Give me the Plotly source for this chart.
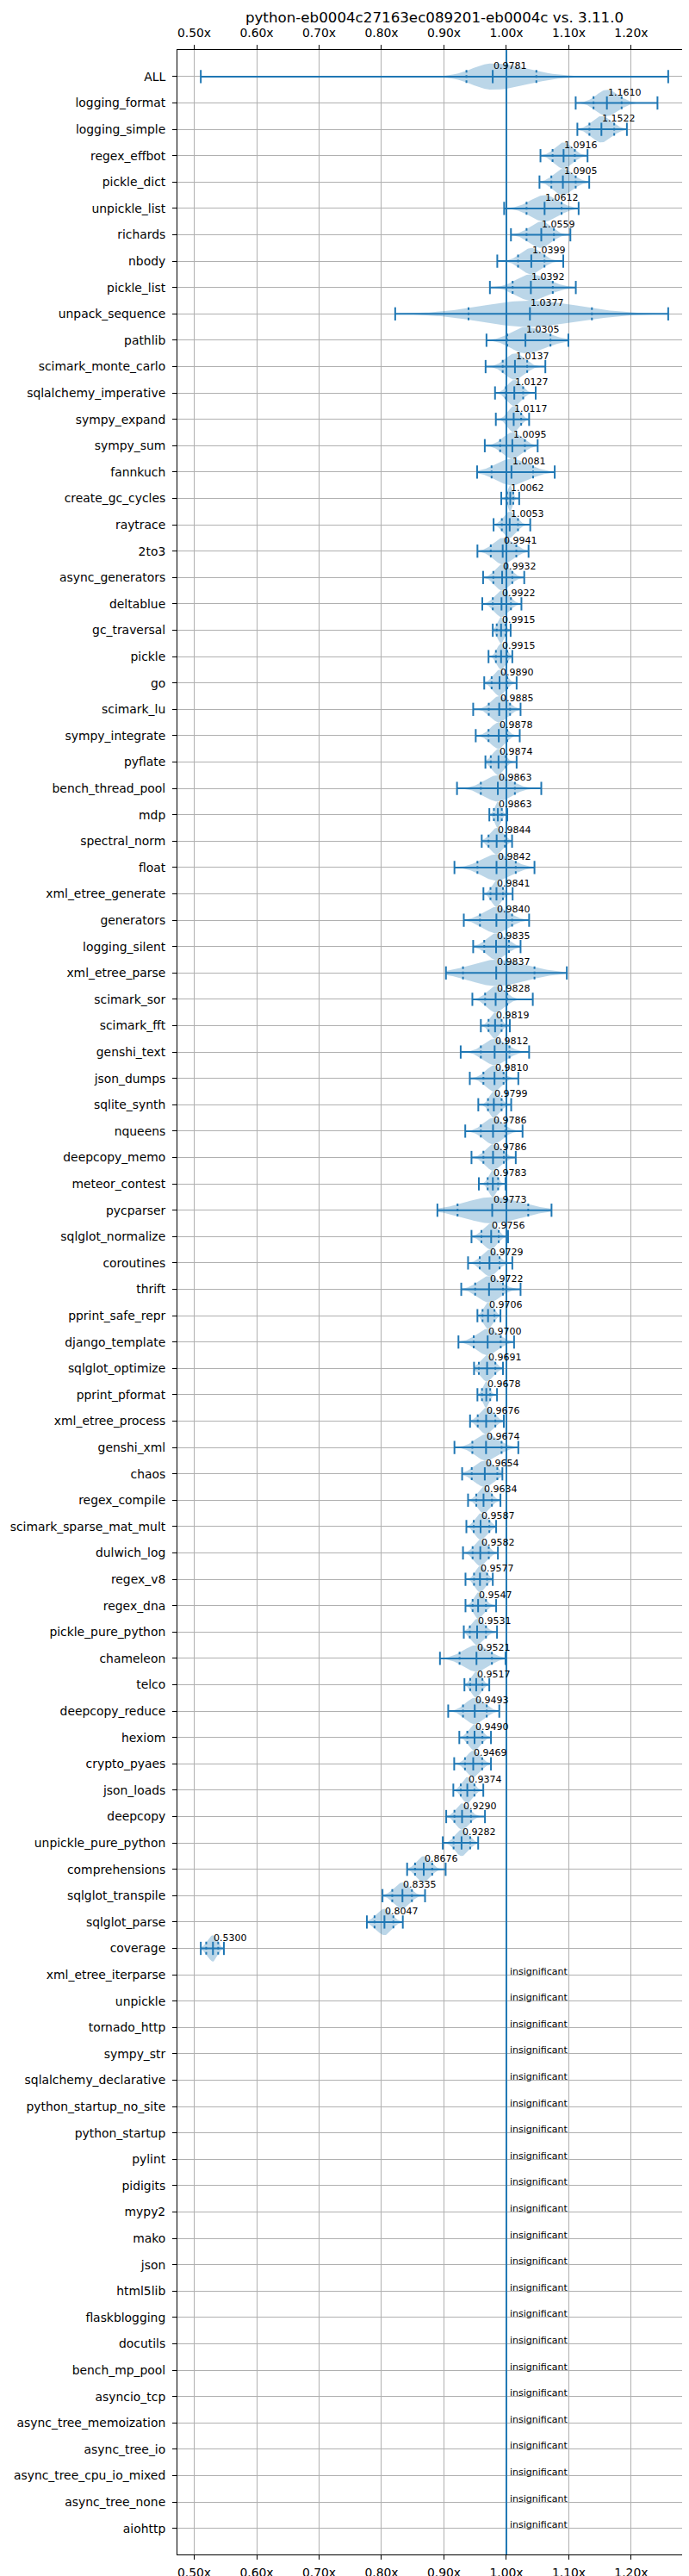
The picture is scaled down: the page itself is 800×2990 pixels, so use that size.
import numpy as np
import plotly.graph_objects as go

title = "python-eb0004c27163ec089201-eb0004c vs. 3.11.0"

names = [
    "ALL", "logging_format", "logging_simple", "regex_effbot", "pickle_dict",
    "unpickle_list", "richards", "nbody", "pickle_list", "unpack_sequence",
    "pathlib", "scimark_monte_carlo", "sqlalchemy_imperative", "sympy_expand", "sympy_sum",
    "fannkuch", "create_gc_cycles", "raytrace", "2to3", "async_generators",
    "deltablue", "gc_traversal", "pickle", "go", "scimark_lu",
    "sympy_integrate", "pyflate", "bench_thread_pool", "mdp", "spectral_norm",
    "float", "xml_etree_generate", "generators", "logging_silent", "xml_etree_parse",
    "scimark_sor", "scimark_fft", "genshi_text", "json_dumps", "sqlite_synth",
    "nqueens", "deepcopy_memo", "meteor_contest", "pycparser", "sqlglot_normalize",
    "coroutines", "thrift", "pprint_safe_repr", "django_template", "sqlglot_optimize",
    "pprint_pformat", "xml_etree_process", "genshi_xml", "chaos", "regex_compile",
    "scimark_sparse_mat_mult", "dulwich_log", "regex_v8", "regex_dna", "pickle_pure_python",
    "chameleon", "telco", "deepcopy_reduce", "hexiom", "crypto_pyaes",
    "json_loads", "deepcopy", "unpickle_pure_python", "comprehensions", "sqlglot_transpile",
    "sqlglot_parse", "coverage",
    # no significant change
    "xml_etree_iterparse", "unpickle", "tornado_http", "sympy_str", "sqlalchemy_declarative",
    "python_startup_no_site", "python_startup", "pylint", "pidigits", "mypy2",
    "mako", "json", "html5lib", "flaskblogging", "docutils",
    "bench_mp_pool", "asyncio_tcp", "async_tree_memoization", "async_tree_io",
    "async_tree_cpu_io_mixed", "async_tree_none", "aiohttp",
]

# per benchmark: min, low quantile, geometric mean, high quantile, max
lo = [
    0.5105, 1.1110, 1.1137, 1.0546, 1.0530, 0.9964, 1.0073, 0.9854, 0.9736, 0.8219,
    0.9681, 0.9667, 0.9818, 0.9831, 0.9654, 0.9531, 0.9918, 0.9795, 0.9536, 0.9627,
    0.9614, 0.9782, 0.9714, 0.9645, 0.9468, 0.9509, 0.9664, 0.9209, 0.9727, 0.9605,
    0.9168, 0.9632, 0.9318, 0.9468, 0.9032, 0.9455, 0.9591, 0.9268, 0.9414, 0.9550,
    0.9341, 0.9441, 0.9559, 0.8895, 0.9441, 0.9386, 0.9277, 0.9536, 0.9232, 0.9482,
    0.9536, 0.9418, 0.9168, 0.9291, 0.9386, 0.9359, 0.9305, 0.9345, 0.9345, 0.9318,
    0.8936, 0.9328, 0.9068, 0.9246, 0.9164, 0.9150, 0.9036, 0.8981, 0.8410, 0.8016,
    0.7765, 0.5105,
]
q_lo = [
    0.9360, 1.1396, 1.1330, 1.0740, 1.0720, 1.0323, 1.0323, 1.0187, 1.0100, 0.9394,
    1.0014, 0.9941, 0.9990, 1.0000, 0.9900, 0.9763, 1.0010, 0.9927, 0.9750, 0.9791,
    0.9782, 0.9845, 0.9832, 0.9764, 0.9718, 0.9714, 0.9750, 0.9591, 0.9800, 0.9714,
    0.9536, 0.9745, 0.9577, 0.9645, 0.9305, 0.9659, 0.9714, 0.9591, 0.9632, 0.9705,
    0.9591, 0.9632, 0.9700, 0.9218, 0.9600, 0.9573, 0.9500, 0.9618, 0.9477, 0.9559,
    0.9609, 0.9541, 0.9455, 0.9445, 0.9518, 0.9477, 0.9459, 0.9482, 0.9459, 0.9414,
    0.9250, 0.9420, 0.9305, 0.9374, 0.9337, 0.9269, 0.9168, 0.9154, 0.8537, 0.8172,
    0.7888, 0.5192,
]
mean = [
    0.9781, 1.1610, 1.1522, 1.0916, 1.0905, 1.0612, 1.0559, 1.0399, 1.0392, 1.0377,
    1.0305, 1.0137, 1.0127, 1.0117, 1.0095, 1.0081, 1.0062, 1.0053, 0.9941, 0.9932,
    0.9922, 0.9915, 0.9915, 0.9890, 0.9885, 0.9878, 0.9874, 0.9863, 0.9863, 0.9844,
    0.9842, 0.9841, 0.9840, 0.9835, 0.9837, 0.9828, 0.9819, 0.9812, 0.9810, 0.9799,
    0.9786, 0.9786, 0.9783, 0.9773, 0.9756, 0.9729, 0.9722, 0.9706, 0.9700, 0.9691,
    0.9678, 0.9676, 0.9674, 0.9654, 0.9634, 0.9587, 0.9582, 0.9577, 0.9547, 0.9531,
    0.9521, 0.9517, 0.9493, 0.9490, 0.9469, 0.9374, 0.9290, 0.9282, 0.8676, 0.8335,
    0.8047, 0.5300,
]
q_hi = [
    1.0480, 1.1846, 1.1727, 1.1096, 1.1110, 1.0884, 1.0761, 1.0610, 1.0743, 1.1370,
    1.0706, 1.0333, 1.0269, 1.0237, 1.0296, 1.0428, 1.0110, 1.0186, 1.0159, 1.0095,
    1.0073, 0.9986, 1.0014, 1.0014, 1.0059, 1.0014, 0.9990, 1.0136, 0.9927, 0.9977,
    1.0150, 0.9945, 1.0091, 1.0041, 1.0450, 1.0014, 0.9923, 1.0050, 0.9955, 0.9923,
    0.9982, 0.9959, 0.9868, 1.0350, 0.9877, 0.9891, 0.9945, 0.9809, 0.9909, 0.9823,
    0.9741, 0.9823, 0.9923, 0.9855, 0.9768, 0.9727, 0.9718, 0.9691, 0.9673, 0.9673,
    0.9768, 0.9616, 0.9685, 0.9616, 0.9612, 0.9488, 0.9433, 0.9420, 0.8812, 0.8487,
    0.8190, 0.5384,
]
hi = [
    1.2592, 1.2420, 1.1930, 1.1300, 1.1327, 1.1157, 1.1025, 1.0911, 1.1112, 1.2592,
    1.0993, 1.0624, 1.0469, 1.0364, 1.0501, 1.0774, 1.0205, 1.0382, 1.0355, 1.0286,
    1.0241, 1.0068, 1.0095, 1.0164, 1.0227, 1.0214, 1.0164, 1.0559, 1.0014, 1.0091,
    1.0450, 1.0100, 1.0364, 1.0227, 1.0968, 1.0423, 1.0055, 1.0364, 1.0191, 1.0077,
    1.0259, 1.0150, 0.9986, 1.0723, 1.0027, 1.0095, 1.0227, 0.9905, 1.0123, 0.9945,
    0.9850, 0.9959, 1.0191, 0.9936, 0.9905, 0.9836, 0.9864, 0.9782, 0.9836, 0.9850,
    0.9986, 0.9726, 0.9886, 0.9753, 0.9753, 0.9630, 0.9657, 0.9548, 0.9027, 0.8697,
    0.8341, 0.5475,
]

tick_vals = [0.5, 0.6, 0.7, 0.8, 0.9, 1.0, 1.1, 1.2]
tick_text = ["0.50x", "0.60x", "0.70x", "0.80x", "0.90x", "1.00x", "1.10x", "1.20x"]

BLUE = "#1f77b4"
FILL = "rgba(31,119,180,0.3)"
FONT = "DejaVu Sans"

n_sig = len(mean)
rows = np.arange(len(names))


def violin_outline(i):
    # split gaussian profile between min and max, peak at the mean
    xs = np.linspace(lo[i], hi[i], 90)
    s = np.where(xs < mean[i], (mean[i] - q_lo[i]) / 1.2816, (q_hi[i] - mean[i]) / 1.2816)
    half = 0.5 * np.exp(-0.5 * ((xs - mean[i]) / s) ** 2)
    return (np.concatenate([xs, xs[::-1]]),
            np.concatenate([i - half, (i + half)[::-1]]))


fig = go.Figure()

for i in range(n_sig):
    vx, vy = violin_outline(i)
    fig.add_trace(go.Scatter(x=vx, y=vy, mode="lines", fill="toself", fillcolor=FILL,
                             line=dict(width=0), hoverinfo="skip", showlegend=False))

wx, wy = [], []
tx, ty = [], []
dx, dy = [], []
for i in range(n_sig):
    wx += [lo[i], hi[i], None]
    wy += [i, i, None]
    for v in (lo[i], mean[i], hi[i]):
        tx += [v, v, None]
        ty += [i - 0.25, i + 0.25, None]
    for v in (q_lo[i], q_hi[i]):
        dx += [v, v, None]
        dy += [i - 0.25, i + 0.25, None]

fig.add_trace(go.Scatter(x=wx, y=wy, mode="lines", line=dict(color=BLUE, width=2),
                         hoverinfo="skip", showlegend=False))
fig.add_trace(go.Scatter(x=tx, y=ty, mode="lines", line=dict(color=BLUE, width=2),
                         hoverinfo="skip", showlegend=False))
fig.add_trace(go.Scatter(x=dx, y=dy, mode="lines", line=dict(color=BLUE, width=2, dash="dot"),
                         hoverinfo="skip", showlegend=False))
# dummy trace so the top axis gets drawn
fig.add_trace(go.Scatter(x=[mean[0]], y=[0], xaxis="x2", mode="markers",
                         marker=dict(opacity=0), hoverinfo="skip", showlegend=False))

for i in range(n_sig):
    fig.add_annotation(x=mean[i], y=i, text=f"{mean[i]:.4f}", showarrow=False,
                       xanchor="left", yanchor="middle", xshift=-1, yshift=12.5,
                       font=dict(family=FONT, size=11, color="black"))
for i in range(n_sig, len(names)):
    fig.add_annotation(x=1.0, y=i, text="insignificant", showarrow=False,
                       xanchor="left", yanchor="middle", xshift=2, yshift=4,
                       font=dict(family=FONT, size=11, color="black"))

fig.add_shape(type="line", x0=1.0, x1=1.0, y0=0, y1=1, xref="x", yref="paper",
              line=dict(color=BLUE, width=2), layer="above")

span = max(hi) - min(lo)
xrange = [min(lo) - 0.05 * span, max(hi) + 0.05 * span]

axis_common = dict(
    showline=True, linecolor="black", linewidth=1, mirror=True,
    ticks="outside", ticklen=5, tickwidth=1, tickcolor="black",
    showgrid=True, gridcolor="#b0b0b0", gridwidth=1, zeroline=False,
    tickfont=dict(family=FONT, size=13.9, color="black"),
)

fig.update_layout(
    width=800, height=2990,
    margin=dict(l=195, r=4, t=50, b=28),
    paper_bgcolor="white", plot_bgcolor="white",
    title=dict(text=title, x=0.5, xref="paper", y=1 - 12 / 2990, yref="container",
               xanchor="center", yanchor="middle",
               font=dict(family=FONT, size=16.7, color="black")),
    xaxis=dict(range=xrange, tickvals=tick_vals, ticktext=tick_text,
               ticklabelstandoff=3, **axis_common),
    xaxis2=dict(range=xrange, tickvals=tick_vals, ticktext=tick_text, overlaying="x",
                side="top", matches="x", ticklabelstandoff=3,
                **{k: v for k, v in axis_common.items() if k != "showgrid"}, showgrid=False),
    yaxis=dict(range=[len(names) - 0.01, -1.01], tickvals=rows, ticktext=names,
               ticklabelstandoff=5, **axis_common),
    showlegend=False,
)

fig.write_html("out.html")
